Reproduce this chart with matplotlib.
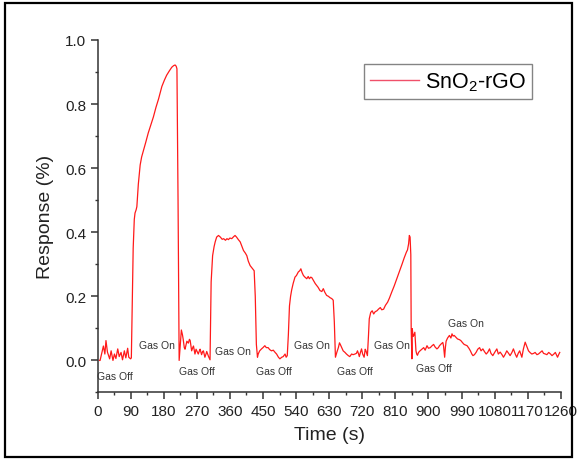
import matplotlib
matplotlib.use("Agg")
import matplotlib.pyplot as plt
from matplotlib.patches import Rectangle
from matplotlib.ticker import MultipleLocator

plt.rcParams['font.family'] = ['Liberation Sans', 'DejaVu Sans']
plt.rcParams['mathtext.default'] = 'regular'

# ---- data ----
time_s = [5, 7, 11, 16, 20, 23, 27, 33, 37, 42, 46, 50, 55, 59, 64, 68, 73, 77, 82, 85, 90, 92,
          94, 97, 100, 102, 105, 107, 111, 116, 120, 125, 131, 138, 145, 152, 159, 166, 175, 182,
          188, 195, 202, 207, 211, 214, 216, 219, 222, 225, 228, 231, 233, 236, 238, 241, 243,
          247, 250, 252, 256, 259, 261, 265, 268, 270, 274, 277, 279, 283, 286, 288, 292, 295,
          297, 302, 306, 309, 313, 317, 320, 324, 329, 334, 339, 343, 348, 352, 356, 360, 365,
          370, 374, 378, 383, 388, 393, 397, 402, 406, 410, 415, 419, 422, 426, 429, 432, 435,
          437, 441, 446, 450, 455, 459, 464, 468, 473, 478, 483, 487, 492, 496, 501, 505, 510,
          513, 516, 519, 522, 525, 528, 532, 537, 541, 546, 550, 553, 556, 560, 564, 569, 573,
          576, 580, 583, 587, 592, 596, 600, 605, 610, 614, 618, 623, 628, 632, 637, 641, 644,
          647, 651, 655, 658, 661, 664, 668, 673, 677, 682, 686, 691, 695, 700, 704, 707, 710,
          712, 715, 718, 721, 725, 728, 730, 734, 737, 739, 743, 747, 751, 755, 760, 764, 769,
          773, 778, 783, 789, 794, 800, 807, 814, 821, 828, 834, 840, 843, 846, 848, 850, 852,
          853, 855, 856, 858, 860, 863, 866, 868, 870, 873, 877, 882, 887, 891, 896, 900, 905,
          909, 914, 918, 923, 927, 930, 935, 939, 941, 944, 946, 948, 952, 957, 961, 964, 967,
          970, 975, 979, 984, 988, 993, 997, 1001, 1005, 1010, 1014, 1018, 1021, 1025, 1030,
          1034, 1039, 1043, 1048, 1052, 1057, 1061, 1066, 1070, 1075, 1080, 1086, 1090, 1095,
          1100, 1104, 1109, 1113, 1118, 1122, 1127, 1131, 1136, 1140, 1144, 1148, 1154, 1158,
          1163, 1167, 1172, 1176, 1181, 1186, 1190, 1195, 1199, 1204, 1209, 1213, 1218, 1222,
          1227, 1232, 1236, 1241, 1245, 1251, 1254, 1257]
response = [0.0, 0.0, 0.02, 0.045, 0.02, 0.062, 0.026, 0.005, 0.03, 0.0, 0.02, 0.006, 0.036,
            0.012, 0.025, 0.002, 0.03, 0.008, 0.038, 0.01, 0.005, 0.008,
            0.15, 0.35, 0.44, 0.46, 0.47, 0.48, 0.55, 0.61, 0.635, 0.655, 0.68, 0.71, 0.735,
            0.76, 0.79, 0.816, 0.855, 0.875, 0.89, 0.903, 0.915, 0.92, 0.922, 0.918, 0.91, 0.5,
            0.0, 0.05, 0.095, 0.08, 0.066, 0.04, 0.035, 0.05, 0.06, 0.054, 0.066, 0.062, 0.03,
            0.04, 0.045, 0.02, 0.035, 0.03, 0.02, 0.03, 0.035, 0.018, 0.028, 0.03, 0.01, 0.02,
            0.028, 0.012, 0.002, 0.245, 0.327, 0.355, 0.37, 0.385, 0.39, 0.385, 0.378, 0.38,
            0.375, 0.38, 0.377, 0.382, 0.38, 0.386, 0.39, 0.385, 0.377, 0.37, 0.355, 0.343,
            0.335, 0.327, 0.31, 0.296, 0.29, 0.286, 0.28, 0.2, 0.05, 0.01,
            0.02, 0.03, 0.036, 0.04, 0.046, 0.04, 0.04, 0.034, 0.03, 0.032, 0.025, 0.02, 0.01,
            0.005, 0.01, 0.012, 0.02, 0.01, 0.015, 0.08, 0.17, 0.2, 0.22, 0.24, 0.26, 0.265,
            0.276, 0.28, 0.286, 0.275, 0.265, 0.26, 0.255, 0.262, 0.255, 0.26, 0.258, 0.25,
            0.24, 0.234, 0.228, 0.218, 0.215, 0.224, 0.213, 0.203, 0.2, 0.196, 0.193, 0.188,
            0.12, 0.01, 0.026, 0.04, 0.055, 0.048, 0.04, 0.03, 0.025, 0.02, 0.015, 0.012, 0.02,
            0.018, 0.02, 0.022, 0.03, 0.02, 0.012, 0.025, 0.036, 0.02, 0.01, 0.035, 0.03, 0.015,
            0.08, 0.13, 0.15, 0.155, 0.145, 0.152, 0.155, 0.16, 0.165, 0.158, 0.16, 0.172,
            0.182, 0.195, 0.213, 0.233, 0.255, 0.278, 0.3, 0.32, 0.338, 0.345, 0.364, 0.39,
            0.385, 0.33, 0.1, 0.005, 0.099, 0.075, 0.078, 0.088, 0.03, 0.02, 0.016, 0.025, 0.03,
            0.035, 0.04, 0.032, 0.046, 0.038, 0.04, 0.045, 0.05, 0.042, 0.036, 0.04, 0.046,
            0.052, 0.056, 0.045, 0.01, 0.04, 0.06, 0.07, 0.078, 0.07, 0.083, 0.076, 0.078,
            0.072, 0.067, 0.065, 0.062, 0.055, 0.05, 0.048, 0.046, 0.038, 0.03, 0.02, 0.015,
            0.018, 0.026, 0.035, 0.04, 0.03, 0.036, 0.028, 0.02, 0.025, 0.036, 0.022, 0.015,
            0.025, 0.036, 0.02, 0.026, 0.018, 0.01, 0.02, 0.03, 0.022, 0.015, 0.025, 0.036,
            0.02, 0.01, 0.022, 0.03, 0.01, 0.035, 0.057, 0.045, 0.03, 0.025, 0.02, 0.022, 0.025,
            0.018, 0.02, 0.025, 0.03, 0.022, 0.02, 0.018, 0.025, 0.02, 0.015, 0.02, 0.025, 0.01,
            0.018, 0.025]

annot_labels = ["Gas Off", "Gas On", "Gas Off", "Gas On", "Gas Off", "Gas On",
                "Gas Off", "Gas On", "Gas Off", "Gas On"]
annot_t = [46, 162, 269, 369, 480, 583, 701, 800, 916, 1001]
annot_v = [-0.048, 0.047, -0.033, 0.028, -0.033, 0.047, -0.033, 0.047, -0.023, 0.118]

x_ticks = list(range(0, 1261, 90))
y_ticks = [0.0, 0.2, 0.4, 0.6, 0.8, 1.0]

# ---- figure ----
fig = plt.figure(figsize=(5.77, 4.60), dpi=100)
ax = fig.add_axes([0.169, 0.1446, 0.803, 0.7663])

ax.plot(time_s, response, color='#ff1a1a', lw=0.9, label='SnO$_2$-rGO')

for lab, t, v in zip(annot_labels, annot_t, annot_v):
    ax.text(t, v, lab, fontsize=7.5, color='#333333', ha='center', va='center')

ax.set_xlim(0, 1260)
ax.set_ylim(-0.1, 1.0)
ax.set_xticks(x_ticks)
ax.set_yticks(y_ticks)
ax.set_yticklabels([f"{v:.1f}" for v in y_ticks])
ax.xaxis.set_minor_locator(MultipleLocator(45))
ax.yaxis.set_minor_locator(MultipleLocator(0.1))

for s in ['top', 'right']:
    ax.spines[s].set_visible(False)
for s in ['left', 'bottom']:
    ax.spines[s].set_color('#333333')
    ax.spines[s].set_linewidth(1.1)

ax.tick_params(which='major', direction='out', length=5, width=1.1, color='#333333',
               labelsize=11, labelcolor='#222222', pad=3)
ax.tick_params(which='minor', direction='out', length=2.5, width=1.0, color='#333333')

ax.set_xlabel('Time (s)', fontsize=14, color='#222222', labelpad=6)
ax.set_ylabel('Response (%)', fontsize=14, color='#222222', labelpad=8)

leg = ax.legend(loc='upper left', bbox_to_anchor=(0.630, 0.859),
                bbox_transform=fig.transFigure, fontsize=15.5, frameon=True,
                fancybox=False, edgecolor='#666666', handlelength=2.3,
                handletextpad=0.25, borderpad=0.3, borderaxespad=0)
leg.get_frame().set_linewidth(1.0)
for h in leg.get_lines():
    h.set_color('#f0506a')
    h.set_linewidth(1.0)

fig.patches.append(Rectangle((0.008, 0.005), 0.984, 0.986, transform=fig.transFigure,
                             fill=False, edgecolor='black', lw=1.6))

fig.savefig('out.png', dpi=100)
